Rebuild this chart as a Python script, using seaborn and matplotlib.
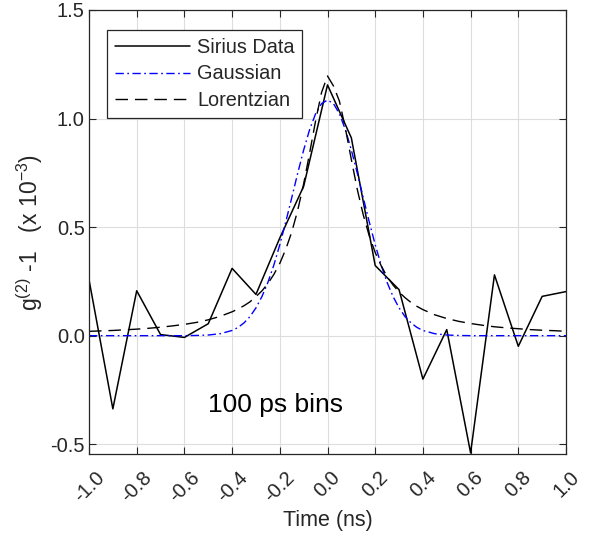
import pandas as pd
import matplotlib
matplotlib.use("Agg")
import matplotlib.pyplot as plt
import seaborn as sns

# measured g2 - 1 (x 1e-3), 100 ps bins
time_ns = [-1.0, -0.9, -0.8, -0.7, -0.6, -0.5, -0.4, -0.3, -0.2, -0.1, 0.0,
           0.1, 0.2, 0.3, 0.4, 0.5, 0.6, 0.7, 0.8, 0.9, 1.0]
sirius = [0.258, -0.337, 0.207, 0.005, -0.008, 0.055, 0.31, 0.19, 0.45, 0.688, 1.155,
          0.911, 0.323, 0.212, -0.20, 0.028, -0.54, 0.28, -0.049, 0.181, 0.203]

# fitted curves
fit_t = [-1.0, -0.95, -0.9, -0.85, -0.8, -0.75, -0.7, -0.65, -0.6, -0.55, -0.5, -0.45,
         -0.4, -0.375, -0.35, -0.325, -0.3, -0.275, -0.25, -0.225, -0.2, -0.175, -0.15,
         -0.125, -0.1, -0.075, -0.05, -0.025, 0.0, 0.025, 0.05, 0.075, 0.1, 0.125, 0.15,
         0.175, 0.2, 0.225, 0.25, 0.275, 0.3, 0.325, 0.35, 0.375, 0.4,
         0.45, 0.5, 0.55, 0.6, 0.65, 0.7, 0.75, 0.8, 0.85, 0.9, 0.95, 1.0]
gaussian = [0.0, 0.0, 0.0, 0.0, 0.0, 0.0, 0.0, 0.0, 0.0, 0.001, 0.003, 0.009,
            0.024, 0.038, 0.059, 0.088, 0.128, 0.180, 0.245, 0.325, 0.419, 0.524, 0.635,
            0.748, 0.855, 0.949, 1.022, 1.069, 1.085, 1.069, 1.022, 0.949, 0.855, 0.748, 0.635,
            0.524, 0.419, 0.325, 0.245, 0.180, 0.128, 0.088, 0.059, 0.038, 0.024,
            0.009, 0.003, 0.001, 0.0, 0.0, 0.0, 0.0, 0.0, 0.0, 0.0, 0.0, 0.0]
lorentzian = [0.020, 0.022, 0.024, 0.027, 0.030, 0.034, 0.039, 0.045, 0.052, 0.061, 0.073, 0.089,
              0.110, 0.123, 0.138, 0.156, 0.180, 0.206, 0.240, 0.282, 0.333, 0.398, 0.477,
              0.577, 0.699, 0.841, 0.989, 1.120, 1.196, 1.150, 1.080, 0.955, 0.811, 0.673, 0.556,
              0.460, 0.383, 0.322, 0.272, 0.233, 0.201, 0.175, 0.153, 0.135, 0.120,
              0.096, 0.079, 0.066, 0.056, 0.048, 0.041, 0.036, 0.032, 0.028, 0.025, 0.023, 0.020]

xticks = [-1.0, -0.8, -0.6, -0.4, -0.2, 0.0, 0.2, 0.4, 0.6, 0.8, 1.0]
yticks = [-0.5, 0.0, 0.5, 1.0, 1.5]

data = pd.DataFrame({"t": time_ns, "g2": sirius})
fits = pd.DataFrame({"t": fit_t, "gauss": gaussian, "lor": lorentzian})

sns.set_style("whitegrid")
plt.rcParams["font.family"] = ["Liberation Sans", "DejaVu Sans"]
plt.rcParams["mathtext.fontset"] = "custom"
plt.rcParams["mathtext.rm"] = "Liberation Sans"
plt.rcParams["mathtext.it"] = "Liberation Sans"

fig = plt.figure(figsize=(5.91, 5.34), dpi=100)
ax = fig.add_axes([0.1506, 0.1498, 0.8071, 0.8315])

sns.lineplot(data=data, x="t", y="g2", ax=ax, color="black", lw=1.1,
             label="Sirius Data", sort=False)
sns.lineplot(data=fits, x="t", y="gauss", ax=ax, color="#0000ff", lw=1.0,
             label="Gaussian", sort=False, dashes=False)
ax.lines[-1].set_dashes([6, 2.5, 1.2, 2.5])
sns.lineplot(data=fits, x="t", y="lor", ax=ax, color="black", lw=1.0,
             label="Lorentzian", sort=False)
ax.lines[-1].set_dashes([9, 5])

ax.set_xlim(-1.0, 1.0)
ax.set_ylim(-0.545, 1.5)
ax.set_xticks(xticks)
ax.set_xticklabels([f"{v:.1f}" for v in xticks], rotation=45, ha="center",
                   va="top", rotation_mode="default")
ax.set_yticks(yticks)
ax.set_yticklabels([f"{v:.1f}" for v in yticks])
ax.tick_params(axis="both", which="both", direction="in", length=5, width=0.8,
               colors="#262626", labelsize=14.5, top=True, right=True,
               bottom=True, left=True, labelcolor="#262626")
ax.tick_params(axis="x", pad=10)
ax.tick_params(axis="y", pad=3)
ax.grid(True, color="#dddddd", lw=0.8)
for s in ax.spines.values():
    s.set_color("#262626")
    s.set_linewidth(0.9)

ax.set_xlabel("Time (ns)", fontsize=15.5, color="#262626", labelpad=3)
ax.set_ylabel("g$^{(2)}$ -1   (x 10$^{-3}$)", fontsize=16.5, color="#262626", labelpad=4)

ax.text(-0.5, -0.32, "100 ps bins", fontsize=19, color="black", va="center", ha="left")

leg = ax.legend(loc="upper left", bbox_to_anchor=(0.037, 0.955), fontsize=14.3,
                frameon=True, fancybox=False, framealpha=1, edgecolor="#262626",
                handlelength=3.8, handletextpad=0.35, borderpad=0.4,
                labelspacing=0.38, borderaxespad=0)
leg.get_frame().set_linewidth(0.9)

fig.savefig("out.png", dpi=100)
